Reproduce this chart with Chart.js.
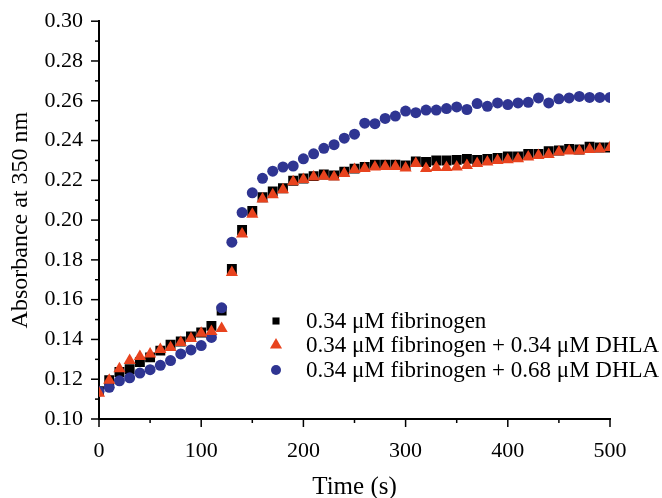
<!DOCTYPE html>
<html>
<head>
<meta charset="utf-8">
<script src="https://cdn.jsdelivr.net/npm/chart.js@4.4.1/dist/chart.umd.min.js"></script>
<style>
  html, body { margin: 0; padding: 0; background: #fff; }
  #wrap { width: 662px; height: 498px; }
</style>
</head>
<body>
<div id="wrap"><canvas id="grafico"></canvas></div>
<script>
const tiempo = [0, 10, 20, 30, 40, 50, 60, 70, 80, 90, 100, 110, 120, 130, 140, 150, 160, 170, 180, 190, 200,
  210, 220, 230, 240, 250, 260, 270, 280, 290, 300, 310, 320, 330, 340, 350, 360, 370, 380, 390, 400,
  410, 420, 430, 440, 450, 460, 470, 480, 490, 500]

const fibrinogeno = [0.114, 0.1195, 0.1236, 0.125, 0.1286, 0.131, 0.1344, 0.1374, 0.139, 0.1415, 0.1435,
  0.1468, 0.1545, 0.1754, 0.195, 0.2046, 0.2115, 0.2144, 0.216, 0.2198, 0.2209,
  0.2221, 0.2229, 0.2225, 0.2243, 0.2259, 0.2267, 0.2279, 0.2279, 0.2279, 0.2275,
  0.2295, 0.2292, 0.230, 0.230, 0.2303, 0.2308, 0.2303, 0.2308, 0.2312, 0.232,
  0.232, 0.2333, 0.2333, 0.2347, 0.235, 0.2358, 0.2355, 0.2369, 0.2365, 0.2365]

const dhla034 = [0.113, 0.1195, 0.1253, 0.1294, 0.1314, 0.1327, 0.1349, 0.136, 0.1385, 0.1405, 0.1431,
  0.144, 0.1455, 0.1737, 0.193, 0.203, 0.2106, 0.2127, 0.2152, 0.2193, 0.2204,
  0.2217, 0.2221, 0.2217, 0.2234, 0.2254, 0.2259, 0.2267, 0.227, 0.227, 0.2262,
  0.2284, 0.2259, 0.2264, 0.2264, 0.2267, 0.2275, 0.2284, 0.2292, 0.230, 0.2303,
  0.2308, 0.2317, 0.2325, 0.233, 0.2342, 0.2347, 0.2347, 0.2355, 0.2358, 0.2365]

const dhla068 = [0.114, 0.1159, 0.1192, 0.1207, 0.1231, 0.1248, 0.127, 0.1294, 0.1327, 0.1347, 0.1369,
  0.141, 0.1559, 0.1889, 0.2038, 0.2137, 0.221, 0.2246, 0.2267, 0.2272, 0.2308,
  0.2333, 0.2361, 0.2379, 0.2412, 0.2432, 0.2487, 0.2485, 0.2511, 0.2523, 0.2548,
  0.254, 0.2553, 0.2553, 0.2561, 0.2569, 0.2556, 0.2586, 0.2572, 0.2589, 0.2581,
  0.2589, 0.2592, 0.2614, 0.2589, 0.261, 0.2614, 0.2622, 0.2617, 0.2617, 0.2617]

const etiquetas = ["0.34 \u03bcM fibrinogen", "0.34 \u03bcM fibrinogen + 0.34 \u03bcM DHLA", "0.34 \u03bcM fibrinogen + 0.68 \u03bcM DHLA"]

const fuente = "'Liberation Serif', 'Times New Roman', serif"
const rojo = "#e8431e"
const azul = "#2f3592"

function puntos(valores) {
  return tiempo.map((t, i) => ({ x: t, y: valores[i] }))
}

// ticks mayores y menores dibujados a mano
const marcas = {
  id: "marcas",
  afterDraw(chart) {
    const ctx = chart.ctx
    ctx.save()
    ctx.strokeStyle = "#000"
    ctx.lineWidth = 1.5
    const sx = chart.scales.x
    sx.ticks.forEach(tk => {
      const px = sx.getPixelForValue(tk.value)
      const largo = tk.value % 100 === 0 ? 8 : 4
      ctx.beginPath()
      ctx.moveTo(px, sx.top)
      ctx.lineTo(px, sx.top + largo)
      ctx.stroke()
    })
    const sy = chart.scales.y
    sy.ticks.forEach(tk => {
      const py = sy.getPixelForValue(tk.value)
      const largo = Math.round(tk.value * 100) % 2 === 0 ? 8 : 4
      ctx.beginPath()
      ctx.moveTo(sy.right, py)
      ctx.lineTo(sy.right - largo, py)
      ctx.stroke()
    })
    ctx.restore()
  }
}

// leyenda dentro del area del grafico
const leyenda = {
  id: "leyenda",
  afterDraw(chart) {
    const ctx = chart.ctx
    const estilos = [
      { style: "rect", r: 5, color: "#000" },
      { style: "triangle", r: 7, color: rojo },
      { style: "circle", r: 5, color: azul }
    ]
    const base = [328, 352, 377]
    ctx.save()
    ctx.font = "23px " + fuente
    ctx.textBaseline = "alphabetic"
    etiquetas.forEach((txt, i) => {
      const e = estilos[i]
      ctx.fillStyle = e.color
      ctx.strokeStyle = e.color
      Chart.helpers.drawPoint(ctx, { pointStyle: e.style, radius: e.r, borderWidth: 0 }, 276, base[i] - 7)
      ctx.fillStyle = "#000"
      ctx.fillText(txt, 306, base[i])
    })
    ctx.restore()
  }
}

const ctx = document.getElementById("grafico").getContext("2d")
const chart = new Chart(ctx, {
  type: "scatter",
  data: {
    datasets: [
      { label: etiquetas[0], data: puntos(fibrinogeno), pointStyle: "rect", pointRadius: 7,
        backgroundColor: "#000", borderWidth: 0, order: 3 },
      { label: etiquetas[1], data: puntos(dhla034), pointStyle: "triangle", pointRadius: 7,
        backgroundColor: rojo, borderWidth: 0, order: 1 },
      { label: etiquetas[2], data: puntos(dhla068), pointStyle: "circle", pointRadius: 5.5,
        backgroundColor: azul, borderWidth: 0, order: 2 }
    ]
  },
  options: {
    responsive: true,
    maintainAspectRatio: false,
    animation: false,
    layout: { padding: { left: 0, right: 52, top: 15, bottom: 0 } },
    plugins: { legend: { display: false }, tooltip: { enabled: false } },
    scales: {
      x: {
        type: "linear",
        min: 0, max: 500,
        grid: { display: false },
        border: { color: "#000", width: 2 },
        ticks: {
          stepSize: 50,
          padding: 11,
          color: "#000",
          font: { family: fuente, size: 22 },
          maxRotation: 0,
          autoSkip: false,
          callback: v => (v % 100 === 0 ? String(v) : "")
        },
        title: {
          display: true, text: "Time (s)", color: "#000",
          font: { family: fuente, size: 25, lineHeight: 1 }, padding: { top: 0, bottom: -2 }
        },
        afterFit: s => { s.height = 79 }
      },
      y: {
        type: "linear",
        min: 0.10, max: 0.30,
        grid: { display: false },
        border: { color: "#000", width: 2 },
        ticks: {
          stepSize: 0.01,
          padding: 8,
          color: "#000",
          font: { family: fuente, size: 22 },
          autoSkip: false,
          callback: v => (Math.round(v * 100) % 2 === 0 ? v.toFixed(2) : "")
        },
        title: {
          display: true, text: "Absorbance at 350 nm", color: "#000",
          font: { family: fuente, size: 24 }, padding: { top: 6, bottom: 0 }
        },
        afterFit: s => { s.width = 99 }
      }
    }
  },
  plugins: [marcas, leyenda]
})
</script>
</body>
</html>
